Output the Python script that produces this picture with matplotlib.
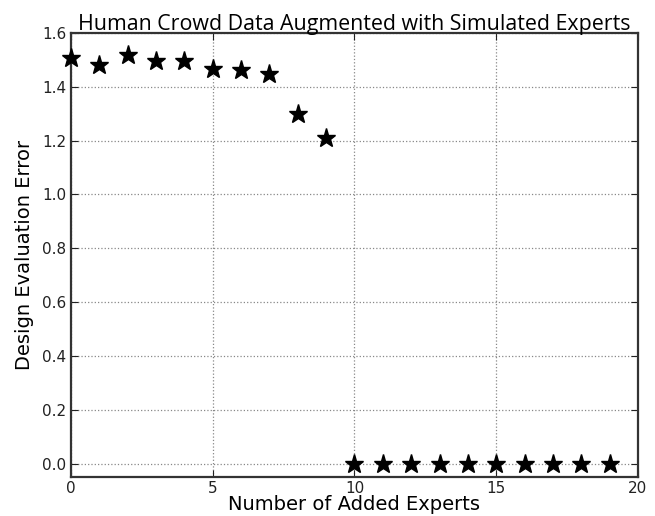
import matplotlib
matplotlib.use("Agg")
import matplotlib.pyplot as plt

# number of simulated experts added to the crowd, and the resulting error
n_experts = list(range(20))
eval_error = [1.507, 1.48, 1.52, 1.497, 1.495, 1.465, 1.463, 1.447, 1.30, 1.21,
              0.0, 0.0, 0.0, 0.0, 0.0, 0.0, 0.0, 0.0, 0.0, 0.0]

x_ticks = [0, 5, 10, 15, 20]
y_ticks = [0.0, 0.2, 0.4, 0.6, 0.8, 1.0, 1.2, 1.4, 1.6]

fig = plt.figure(figsize=(6.55, 5.16), dpi=100)
ax = fig.add_axes([0.1084, 0.0756, 0.8656, 0.8604])

ax.plot(n_experts, eval_error, linestyle="none", marker="*", markersize=14,
        color="black", clip_on=False, zorder=3)

ax.set_xlim(0, 20)
ax.set_ylim(-0.05, 1.6)
ax.set_xticks(x_ticks)
ax.set_yticks(y_ticks)
ax.set_yticklabels([f"{v:.1f}" for v in y_ticks])
ax.tick_params(direction="in", top=True, right=True, length=5, labelsize=11,
               colors="#222222")
ax.tick_params(axis="x", pad=3)
ax.grid(True, linestyle=":", color="#888888", linewidth=0.9)
for sp in ax.spines.values():
    sp.set_linewidth(1.6)
    sp.set_color("#333333")

ax.set_xlabel("Number of Added Experts", fontsize=14, labelpad=-1)
ax.set_ylabel("Design Evaluation Error", fontsize=14, labelpad=6)
ax.set_title("Human Crowd Data Augmented with Simulated Experts",
             fontsize=15.4, family="Open Sans", pad=2)

fig.savefig("out.png", dpi=100)
